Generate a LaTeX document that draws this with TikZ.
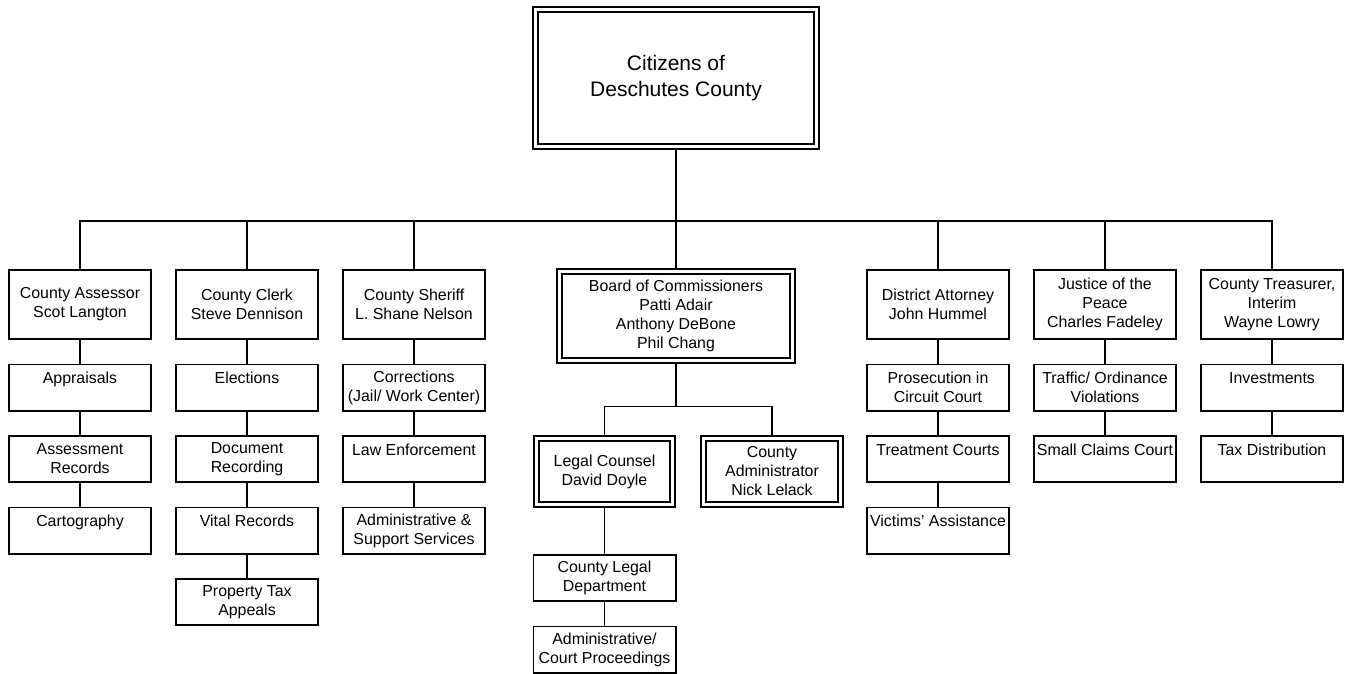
\documentclass[tikz,border=0pt]{standalone}
\usepackage{fontspec}
\setmainfont{Liberation Sans}
\usetikzlibrary{positioning}

\begin{document}
\begin{tikzpicture}[x=1pt,y=-1pt,line width=1.8pt,node distance=23.5pt,
                    font=\fontsize{15.9}{19}\selectfont,
                    box/.style={draw,align=center,inner sep=1pt},
                    head/.style={box,minimum width=142.2pt,minimum height=69.2pt},
                    unit/.style={box,minimum width=142.2pt,minimum height=46.2pt},
                    dbl/.style={box,double,double distance=3.2pt,outer sep=3.4pt}]

  \useasboundingbox (0,0) rectangle (1349,674);

  \node[dbl,minimum width=281.2pt,minimum height=137.2pt,
        font=\fontsize{21}{26}\selectfont] (citizens) at (676,78) {Citizens of\\Deschutes County};

  \node[head]  (assessor)   at (80,304.5)   {County Assessor\\Scot Langton};
  \node[head]  (clerk)      at (247,304.5)  {County Clerk\\Steve Dennison};
  \node[head]  (sheriff)    at (414,304.5)  {County Sheriff\\L. Shane Nelson};
  \node[dbl,minimum width=233.2pt,minimum height=89.2pt]
               (board)      at (676,316)    {Board of Commissioners\\Patti Adair\\Anthony DeBone\\Phil Chang};
  \node[head]  (attorney)   at (938,304.5)  {District Attorney\\John Hummel};
  \node[head]  (justice)    at (1105,304.5) {Justice of the\\Peace\\Charles Fadeley};
  \node[head]  (treasurer)  at (1272,304.5) {County Treasurer,\\Interim\\Wayne Lowry};

  \node[unit]  (appraisals) [below=of assessor]   {Appraisals\\~};
  \node[unit]  (assessment) [below=of appraisals] {Assessment\\Records};
  \node[unit]  (carto)      [below=of assessment] {Cartography\\~};

  \node[unit]  (elections)  [below=of clerk]      {Elections\\~};
  \node[unit]  (docs)       [below=of elections]  {Document\\Recording};
  \node[unit]  (vital)      [below=of docs]       {Vital Records\\~};
  \node[unit]  (appeals)    [below=of vital]      {Property Tax\\Appeals};

  \node[unit]  (corrections) [below=of sheriff]     {Corrections\\(Jail/ Work Center)};
  \node[unit]  (lawenf)      [below=of corrections] {Law Enforcement\\~};
  \node[unit]  (support)     [below=of lawenf]      {Administrative \&\\Support Services};

  \node[dbl,minimum width=136.2pt,minimum height=66.2pt]
               (counsel)    at (604.5,471.5) {Legal Counsel\\David Doyle};
  \node[dbl,minimum width=137.2pt,minimum height=66.2pt]
               (admin)      at (772,471.5)   {County\\Administrator\\Nick Lelack};
  \node[unit]  (legaldept)  [below=46pt of counsel] {County Legal\\Department};
  \node[unit]  (court)      [below=of legaldept]    {Administrative/\\Court Proceedings};

  \node[unit]  (prosecution) [below=of attorney]    {Prosecution in\\Circuit Court};
  \node[unit]  (treatment)   [below=of prosecution] {Treatment Courts\\~};
  \node[unit]  (victims)     [below=of treatment]   {Victims' Assistance\\~};

  \node[unit]  (traffic)    [below=of justice]    {Traffic/ Ordinance\\Violations};
  \node[unit]  (claims)     [below=of traffic]    {Small Claims Court\\~};

  \node[unit]  (invest)     [below=of treasurer]  {Investments\\~};
  \node[unit]  (taxdist)    [below=of invest]     {Tax Distribution\\~};

  % top level bar
  \coordinate (bar) at (676,221);
  \draw (citizens) -- (bar);
  \foreach \n in {assessor,clerk,sheriff,board,attorney,justice,treasurer}
    \draw (bar) -| (\n);

  % board split
  \coordinate (split) at (676,406.5);
  \draw (board) -- (split);
  \draw (split) -| (counsel);
  \draw (split) -| (admin);

  \path (assessor)    edge (appraisals)
        (appraisals)  edge (assessment)
        (assessment)  edge (carto)
        (clerk)       edge (elections)
        (elections)   edge (docs)
        (docs)        edge (vital)
        (vital)       edge (appeals)
        (sheriff)     edge (corrections)
        (corrections) edge (lawenf)
        (lawenf)      edge (support)
        (counsel)     edge (legaldept)
        (legaldept)   edge (court)
        (attorney)    edge (prosecution)
        (prosecution) edge (treatment)
        (treatment)   edge (victims)
        (justice)     edge (traffic)
        (traffic)     edge (claims)
        (treasurer)   edge (invest)
        (invest)      edge (taxdist);
\end{tikzpicture}
\end{document}
